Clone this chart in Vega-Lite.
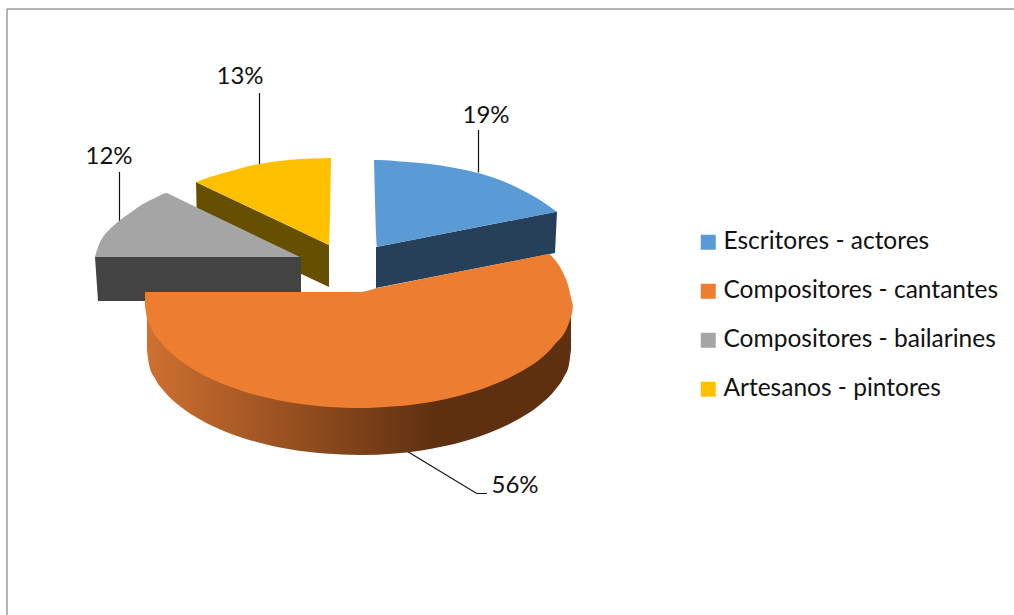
{"$schema":"https://vega.github.io/schema/vega-lite/v6.json","width":1014,"height":615,"autosize":"none","padding":0,"background":"white","config":{"view":{"stroke":null}},
"datasets":{
"faces":[
{"slice":"Artesanos - pintores","x":196,"y":182,"y2":182},{"slice":"Artesanos - pintores","x":198,"y":181.2,"y2":183},{"slice":"Artesanos - pintores","x":220,"y":174,"y2":193.4},{"slice":"Artesanos - pintores","x":240,"y":168.5,"y2":202.8},{"slice":"Artesanos - pintores","x":259,"y":164,"y2":211.8},{"slice":"Artesanos - pintores","x":280,"y":161,"y2":221.8},{"slice":"Artesanos - pintores","x":300,"y":159,"y2":231.3},{"slice":"Artesanos - pintores","x":326,"y":158.2,"y2":243.6},{"slice":"Artesanos - pintores","x":329,"y":158.1,"y2":245},{"slice":"Artesanos - pintores","x":331,"y":158,"y2":158},
{"slice":"Compositores - bailarines","x":95,"y":257,"y2":257},{"slice":"Compositores - bailarines","x":98,"y":247,"y2":257},{"slice":"Compositores - bailarines","x":103,"y":237,"y2":257},{"slice":"Compositores - bailarines","x":110,"y":229,"y2":257},{"slice":"Compositores - bailarines","x":119,"y":221,"y2":257},{"slice":"Compositores - bailarines","x":130,"y":213,"y2":257},{"slice":"Compositores - bailarines","x":143,"y":204,"y2":257},{"slice":"Compositores - bailarines","x":155,"y":198,"y2":257},{"slice":"Compositores - bailarines","x":167,"y":193,"y2":257},{"slice":"Compositores - bailarines","x":169,"y":194,"y2":257},{"slice":"Compositores - bailarines","x":200,"y":208.9,"y2":257},{"slice":"Compositores - bailarines","x":250,"y":233,"y2":257},{"slice":"Compositores - bailarines","x":298,"y":256,"y2":257},{"slice":"Compositores - bailarines","x":300,"y":257,"y2":257},
{"slice":"Escritores - actores","x":374,"y":160,"y2":160},{"slice":"Escritores - actores","x":377,"y":160,"y2":246.7},{"slice":"Escritores - actores","x":380,"y":160.1,"y2":246.1},{"slice":"Escritores - actores","x":400,"y":161.5,"y2":242.2},{"slice":"Escritores - actores","x":430,"y":164,"y2":236.4},{"slice":"Escritores - actores","x":455,"y":168,"y2":231.5},{"slice":"Escritores - actores","x":478,"y":173,"y2":227},{"slice":"Escritores - actores","x":500,"y":180,"y2":222.8},{"slice":"Escritores - actores","x":520,"y":189,"y2":218.9},{"slice":"Escritores - actores","x":540,"y":200,"y2":215},{"slice":"Escritores - actores","x":557,"y":212,"y2":211.7}
],
"orangeTop":[
{"slice":"Compositores - cantantes","x":145,"y":292,"y2":306},{"slice":"Compositores - cantantes","x":146,"y":292,"y2":313},{"slice":"Compositores - cantantes","x":150,"y":292,"y2":325.6},{"slice":"Compositores - cantantes","x":160,"y":292,"y2":341.6},{"slice":"Compositores - cantantes","x":175,"y":292,"y2":356.6},{"slice":"Compositores - cantantes","x":195,"y":292,"y2":370.5},{"slice":"Compositores - cantantes","x":220,"y":292,"y2":382.8},{"slice":"Compositores - cantantes","x":250,"y":292,"y2":393.4},{"slice":"Compositores - cantantes","x":285,"y":292,"y2":401.5},{"slice":"Compositores - cantantes","x":320,"y":292,"y2":406.2},{"slice":"Compositores - cantantes","x":360,"y":292,"y2":408},{"slice":"Compositores - cantantes","x":377,"y":288,"y2":407.4},{"slice":"Compositores - cantantes","x":400,"y":283.5,"y2":406},{"slice":"Compositores - cantantes","x":435,"y":276.5,"y2":401.2},{"slice":"Compositores - cantantes","x":470,"y":269.6,"y2":392.8},{"slice":"Compositores - cantantes","x":500,"y":263.7,"y2":382},{"slice":"Compositores - cantantes","x":525,"y":258.7,"y2":369.3},{"slice":"Compositores - cantantes","x":545,"y":254.8,"y2":355},{"slice":"Compositores - cantantes","x":549,"y":254,"y2":351},{"slice":"Compositores - cantantes","x":551,"y":255.5,"y2":349},{"slice":"Compositores - cantantes","x":555,"y":260,"y2":344},{"slice":"Compositores - cantantes","x":560,"y":267,"y2":339},{"slice":"Compositores - cantantes","x":565,"y":277,"y2":332},{"slice":"Compositores - cantantes","x":568,"y":285,"y2":325.6},{"slice":"Compositores - cantantes","x":570,"y":293,"y2":320},{"slice":"Compositores - cantantes","x":572,"y":302,"y2":313},{"slice":"Compositores - cantantes","x":573,"y":306,"y2":306}
],
"orangeSide":[
{"x":147,"y":305,"y2":350},{"x":149,"y":305,"y2":364.4},{"x":155,"y":305,"y2":378.6},{"x":165,"y":305,"y2":392.3},{"x":180,"y":305,"y2":406.3},{"x":200,"y":305,"y2":419.4},{"x":225,"y":305,"y2":431.4},{"x":255,"y":305,"y2":441.5},{"x":290,"y":305,"y2":449.3},{"x":325,"y":305,"y2":453.6},{"x":359,"y":305,"y2":455},{"x":395,"y":305,"y2":453.5},{"x":430,"y":305,"y2":449},{"x":465,"y":305,"y2":441},{"x":495,"y":305,"y2":430.5},{"x":520,"y":305,"y2":418.3},{"x":540,"y":305,"y2":404.7},{"x":555,"y":305,"y2":390},{"x":564,"y":305,"y2":376.8},{"x":569,"y":305,"y2":364.4},{"x":571,"y":305,"y2":350}
],
"yellowSide":[{"x":196,"y":182,"y2":182},{"x":197,"y":182.5,"y2":225},{"x":329,"y":245,"y2":287}],
"graySide":[{"x":95,"y":257,"y2":257},{"x":98,"y":257,"y2":301},{"x":301,"y":257,"y2":301}],
"blueSide":[{"x":376,"y":247,"y2":288},{"x":555,"y":212.1,"y2":253},{"x":557,"y":211.7,"y2":211.7}],
"leaders":[
{"line":"a","x":478.5,"y":130},{"line":"a","x":478.5,"y":172.5},
{"line":"b","x":259.5,"y":93},{"line":"b","x":259.5,"y":164},
{"line":"c","x":119.5,"y":172},{"line":"c","x":119.5,"y":221},
{"line":"d","x":405,"y":450},{"line":"d","x":476.7,"y":493.5},{"line":"d","x":487,"y":493.5}
],
"frame":[
{"line":"top","x":7,"y":9},{"line":"top","x":1014,"y":9},
{"line":"left","x":7,"y":9},{"line":"left","x":7,"y":615}
],
"labels":[
{"slice":"Escritores - actores","value":0.19,"x":486,"y":116},
{"slice":"Compositores - cantantes","value":0.56,"x":515,"y":486},
{"slice":"Compositores - bailarines","value":0.12,"x":109,"y":157},
{"slice":"Artesanos - pintores","value":0.13,"x":240,"y":77}
]},
"encoding":{
"x":{"field":"x","type":"quantitative","scale":{"domain":[0,1014],"nice":false,"zero":false},"axis":null},
"y":{"field":"y","type":"quantitative","scale":{"domain":[615,0],"nice":false,"zero":false},"axis":null}
},
"layer":[
{"data":{"name":"frame"},"mark":{"type":"line","color":"#9C9C9C","strokeWidth":1.5},"encoding":{"detail":{"field":"line"}}},
{"data":{"name":"yellowSide"},"mark":{"type":"area","color":"#665000"},"encoding":{"y2":{"field":"y2"}}},
{"data":{"name":"graySide"},"mark":{"type":"area","color":"#434343"},"encoding":{"y2":{"field":"y2"}}},
{"data":{"name":"blueSide"},"mark":{"type":"area","color":"#264059"},"encoding":{"y2":{"field":"y2"}}},
{"data":{"name":"leaders"},"mark":{"type":"line","color":"#111111","strokeWidth":1.2},"encoding":{"detail":{"field":"line"}}},
{"data":{"name":"faces"},"mark":{"type":"area","interpolate":"monotone"},"encoding":{"y2":{"field":"y2"},"color":{"field":"slice","type":"nominal","scale":{"domain":["Escritores - actores","Compositores - cantantes","Compositores - bailarines","Artesanos - pintores"],"range":["#5B9BD5","#ED7D31","#A5A5A5","#FFC000"]},"legend":{"title":null,"orient":"none","legendX":696,"legendY":230,"symbolType":"square","symbolSize":225,"symbolStrokeWidth":0,"symbolOpacity":1,"labelFont":"Lato","labelFontSize":24.5,"labelColor":"#111111","labelOffset":3,"rowPadding":24,"labelLimit":320}}}},
{"data":{"name":"orangeSide"},"mark":{"type":"area","interpolate":"monotone","color":{"gradient":"linear","x1":0,"x2":1,"y1":0,"y2":0,"stops":[{"offset":0,"color":"#CE7030"},{"offset":0.68,"color":"#5F3010"},{"offset":1,"color":"#5F3010"}]}},"encoding":{"y2":{"field":"y2"}}},
{"data":{"name":"orangeTop"},"mark":{"type":"area","interpolate":"monotone"},"encoding":{"y2":{"field":"y2"},"color":{"field":"slice","type":"nominal"}}},
{"data":{"name":"labels"},"mark":{"type":"text","font":"Lato","fontSize":24,"color":"#111111","align":"center","baseline":"middle"},"encoding":{"text":{"field":"value","type":"quantitative","format":".0%"}}}
]}
